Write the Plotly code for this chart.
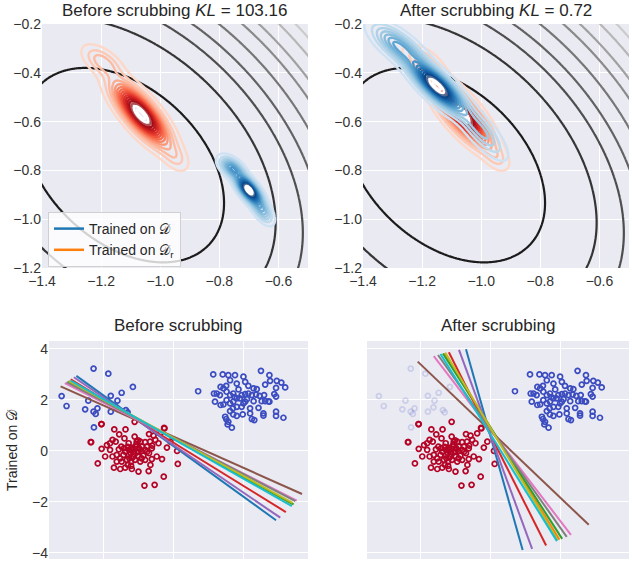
import numpy as np
from plotly import graph_objs as go

# ---- top row: loss landscape rings (quadratic) ----
landscape_center = [-1.122, -0.7785]
landscape_quad = [10.33, 3.42, 7.43]  # a, b, d  ->  a dx^2 + 2b dx dy + d dy^2
landscape_levels = [1.0, 2.3, 3.2, 3.95, 4.82, 5.72, 6.44, 7.40, 8.26]
landscape_colors = ["#1c1c1c", "#353535", "#4e4e4e", "#626262", "#767676",
                    "#8a8a8a", "#a0a0a0", "#b6b6b6", "#cbcbcb"]

# ---- weight densities, gaussian components: x, y, sd major, sd minor, angle, weight ----
red_x = [-1.065, -1.195, -0.95]
red_y = [-0.57, -0.355, -0.745]
red_sd_major = [0.09, 0.05, 0.04]
red_sd_minor = [0.03, 0.026, 0.022]
red_angle = [-56, -45, -60]
red_weight = [1.0, 0.2, 0.1]

blue_before_x = [-0.70, -0.757, -0.655]
blue_before_y = [-0.88, -0.79, -0.965]
blue_before_sd_major = [0.042, 0.032, 0.035]
blue_before_sd_minor = [0.017, 0.018, 0.016]
blue_before_angle = [-58, -50, -62]
blue_before_weight = [1.0, 0.45, 0.3]

blue_after_x = [-1.15, -1.28, -1.0]
blue_after_y = [-0.455, -0.29, -0.64]
blue_after_sd_major = [0.08, 0.07, 0.075]
blue_after_sd_minor = [0.026, 0.028, 0.025]
blue_after_angle = [-50, -45, -55]
blue_after_weight = [1.0, 0.42, 0.25]

kde_levels = [0.04, 0.97, 0.062]  # start, end, step (fraction of peak)

# ---- bottom row: data points ----
red_pts_x = [-2.04, -1.68, -1.36, -1.54, -1.10, -0.69, -0.25, -2.34, -1.73, -1.39, -1.10, -0.56,
             -0.37, -2.04, -1.89, -1.80, -1.64, -1.48, -1.27, -1.18, -1.07, -0.94, -0.80, -0.66,
             -0.51, -0.42, -0.18, -0.08, 0.11, -1.94, -1.73, -1.61, -1.51, -1.37, -1.26, -1.13,
             -1.01, -0.91, -0.80, -0.69, -0.61, -0.47, -0.32, -2.15, -1.80, -1.61, -1.47, -1.32,
             -1.20, -1.09, -0.94, -0.80, -0.65, -1.69, -1.51, -1.37, -1.18, -0.99, -0.70, -0.27,
             0.13, -0.82, -0.53, -1.26, -1.04, -0.89, -0.75, -1.29, -1.42, -0.61, -1.20, -1.00,
             -1.15, -0.95, -1.05, -1.30, -0.85, -1.25, -0.75, -1.40, -1.10, -0.90, -1.00, -1.20,
             -0.60, -1.55, -2.35, -2.05, -0.26, -1.12, -0.98, -1.22]
red_pts_y = [1.04, 0.83, 0.83, 0.64, 1.13, 0.65, 0.87, 0.33, 0.42, 0.48, 0.55, 0.59,
             0.68, 0.07, 0.22, 0.29, 0.35, 0.16, 0.29, 0.12, 0.16, 0.35, 0.33, 0.35,
             0.42, 0.29, 0.12, 0.35, -0.01, -0.23, -0.23, -0.17, -0.30, -0.04, -0.17, -0.04,
             -0.20, -0.01, 0.03, -0.10, 0.09, -0.23, -0.33, -0.50, 0.03, -0.43, -0.43, -0.36,
             -0.43, -0.36, -0.43, -0.36, -0.56, -0.67, -0.72, -0.67, -0.72, -0.82, -0.80, -1.02,
             -0.52, -1.37, -1.34, 0.03, 0.35, 0.16, 0.16, -0.56, -0.17, -0.33, 0.05, -0.05,
             -0.25, 0.05, 0.25, 0.15, -0.20, -0.30, -0.05, 0.10, -0.15, -0.30, 0.40, -0.60,
             0.20, 0.05, 0.33, 1.04, 0.89, 0.08, 0.10, -0.08]

blue_pts_x = [0.71, 1.14, 1.41, 1.57, 1.76, 2.00, 2.50, 2.74, 2.76, 2.95, 3.08, 3.19, 2.62,
              1.62, 1.81, 2.05, 2.14, 2.29, 2.38, 2.93, 1.35, 1.43, 1.51, 1.24, 1.16, 1.33,
              1.52, 1.62, 1.71, 1.86, 1.95, 2.05, 2.14, 2.24, 2.36, 2.46, 2.59, 2.88, 1.19,
              1.35, 1.43, 1.52, 1.62, 1.71, 1.81, 1.70, 1.81, 1.95, 2.05, 2.19, 2.29, 2.43,
              2.52, 2.62, 2.74, 1.62, 1.71, 1.81, 1.98, 2.19, 2.57, 2.57, 2.93, 2.93, 3.14,
              1.48, 1.51, 1.57, 1.55, 1.67, 2.24, 2.31, 2.93, 2.71, 1.90, 2.10, 1.75, 2.00]
blue_pts_y = [2.33, 2.99, 2.99, 2.96, 2.96, 2.90, 3.13, 2.96, 2.74, 2.74, 2.67, 2.48, 2.59,
              2.76, 2.63, 2.70, 2.54, 2.44, 2.41, 2.46, 2.50, 2.44, 2.54, 2.24, 2.24, 2.18,
              2.31, 2.18, 2.24, 2.40, 2.18, 2.22, 2.24, 2.18, 2.20, 2.15, 2.18, 2.22, 1.92,
              1.79, 1.81, 1.98, 1.85, 1.92, 2.05, 1.66, 1.72, 1.72, 1.92, 1.66, 1.94, 1.68,
              1.94, 1.94, 1.92, 1.55, 1.42, 1.36, 1.42, 1.46, 1.46, 1.37, 1.53, 1.36, 1.29,
              1.33, 1.24, 1.13, 1.03, 0.90, 1.24, 1.20, 2.12, 1.93, 2.05, 2.02, 2.10, 1.85]

stray_pts_x = [-2.27, -1.85, -1.15, -1.47, -1.78, -3.18, -1.59, -2.42, -3.04, -2.16, -2.51,
               -2.27, -2.21, -1.78, -1.35, -2.26, -1.62, -1.30]
stray_pts_y = [3.22, 3.02, 2.50, 2.27, 2.15, 2.14, 1.96, 1.96, 1.75, 1.66, 1.62,
               1.53, 1.44, 1.53, 1.59, 0.91, 1.70, 1.50]

# ---- classifier lines (tab10 order), endpoints ----
line_colors = ["#1f77b4", "#ff7f0e", "#2ca02c", "#d62728", "#9467bd",
               "#8c564b", "#e377c2", "#7f7f7f", "#bcbd22", "#17becf"]
before_x0 = [-2.76, -2.96, -2.99, -2.92, -2.83, -3.21, -3.09, -3.04, -2.97, -2.92]
before_y0 = [2.93, 2.74, 2.72, 2.80, 2.88, 2.52, 2.65, 2.69, 2.73, 2.75]
before_x1 = [2.93, 3.40, 3.43, 3.21, 3.05, 3.67, 3.52, 3.48, 3.40, 3.38]
before_y1 = [-2.73, -2.10, -2.11, -2.41, -2.63, -1.70, -1.96, -1.98, -2.05, -2.18]
after_x0 = [-0.69, -1.30, -1.35, -1.18, -0.89, -2.07, -1.61, -1.49, -1.28, -1.42]
after_y0 = [3.98, 3.83, 3.81, 3.86, 3.95, 3.49, 3.71, 3.75, 3.84, 3.79]
after_x1 = [0.93, 1.98, 2.06, 1.60, 1.20, 2.82, 2.31, 2.19, 1.93, 1.91]
after_y1 = [-3.90, -3.49, -3.46, -3.72, -3.85, -2.91, -3.30, -3.38, -3.51, -3.55]

FONT = "Liberation Sans, Arial, sans-serif"
REDS = [[0, "#fdd8c8"], [0.22, "#fcab8f"], [0.42, "#f9714f"], [0.62, "#e4342a"],
        [0.82, "#b3101a"], [0.92, "#8f0a12"], [0.95, "#ffffff"], [1, "#ffffff"]]
BLUES = [[0, "#cfe2f3"], [0.22, "#9cc8e2"], [0.42, "#5ea6d2"], [0.62, "#2a7ab9"],
         [0.82, "#0b5199"], [0.92, "#08306b"], [0.95, "#ffffff"], [1, "#ffffff"]]

grid_x = np.linspace(-1.45, -0.45, 260)
grid_y = np.linspace(-1.25, -0.15, 260)
GX, GY = np.meshgrid(grid_x, grid_y)


def mixture(mx, my, sd_major, sd_minor, angle, weight):
    z = np.zeros_like(GX)
    for i in range(len(mx)):
        t = np.radians(angle[i])
        u = (GX - mx[i]) * np.cos(t) + (GY - my[i]) * np.sin(t)
        v = -(GX - mx[i]) * np.sin(t) + (GY - my[i]) * np.cos(t)
        z += weight[i] * np.exp(-0.5 * ((u / sd_major[i]) ** 2 + (v / sd_minor[i]) ** 2))
    return z / z.max()


def landscape():
    dx = GX - landscape_center[0]
    dy = GY - landscape_center[1]
    a, b, d = landscape_quad
    return a * dx ** 2 + 2 * b * dx * dy + d * dy ** 2


def kde_trace(z, scale, xa, ya):
    return go.Contour(
        x=grid_x, y=grid_y, z=z, xaxis=xa, yaxis=ya,
        contours=dict(coloring="lines", start=kde_levels[0], end=kde_levels[1], size=kde_levels[2]),
        line=dict(width=2.4), colorscale=scale, zauto=False, zmin=kde_levels[0], zmax=kde_levels[1],
        showscale=False, hoverinfo="skip", showlegend=False,
    )


fig = go.Figure()
loss = landscape()
red_z = mixture(red_x, red_y, red_sd_major, red_sd_minor, red_angle, red_weight)
blue_before_z = mixture(blue_before_x, blue_before_y, blue_before_sd_major, blue_before_sd_minor,
                        blue_before_angle, blue_before_weight)
blue_after_z = mixture(blue_after_x, blue_after_y, blue_after_sd_major, blue_after_sd_minor,
                       blue_after_angle, blue_after_weight)

for xa, ya, blue_z in [("x", "y", blue_before_z), ("x2", "y2", blue_after_z)]:
    for level, color in zip(landscape_levels, landscape_colors):
        fig.add_trace(go.Contour(
            x=grid_x, y=grid_y, z=loss, xaxis=xa, yaxis=ya,
            contours=dict(coloring="none", start=level, end=level, size=1),
            line=dict(width=2.2, color=color), showscale=False, hoverinfo="skip", showlegend=False,
        ))
    fig.add_trace(kde_trace(red_z, REDS, xa, ya))
    fig.add_trace(kde_trace(blue_z, BLUES, xa, ya))

# legend handles
fig.add_trace(go.Scatter(x=[None], y=[None], mode="lines", line=dict(color="#1f77b4", width=2.5),
                         name="Trained on 𝒟", xaxis="x", yaxis="y"))
fig.add_trace(go.Scatter(x=[None], y=[None], mode="lines", line=dict(color="#ff7f0e", width=2.5),
                         name="Trained on 𝒟<sub>r</sub>", xaxis="x", yaxis="y"))

for xa, ya, stray_color, x0, y0, x1, y1 in [
    ("x3", "y3", "#3b4cc0", before_x0, before_y0, before_x1, before_y1),
    ("x4", "y4", "rgba(59,76,192,0.18)", after_x0, after_y0, after_x1, after_y1),
]:
    marker = dict(symbol="circle-open", size=5, line=dict(width=1.7))
    fig.add_trace(go.Scatter(x=stray_pts_x, y=stray_pts_y, mode="markers", xaxis=xa, yaxis=ya,
                             marker=dict(marker, color=stray_color), showlegend=False, hoverinfo="skip"))
    fig.add_trace(go.Scatter(x=blue_pts_x, y=blue_pts_y, mode="markers", xaxis=xa, yaxis=ya,
                             marker=dict(marker, color="#3b4cc0"), showlegend=False, hoverinfo="skip"))
    fig.add_trace(go.Scatter(x=red_pts_x, y=red_pts_y, mode="markers", xaxis=xa, yaxis=ya,
                             marker=dict(marker, color="#b40426"), showlegend=False, hoverinfo="skip"))
    for i, color in enumerate(line_colors):
        fig.add_trace(go.Scatter(x=[x0[i], x1[i]], y=[y0[i], y1[i]], mode="lines", xaxis=xa, yaxis=ya,
                                 line=dict(color=color, width=2), showlegend=False, hoverinfo="skip"))

W, H = 632, 562


def px(v):
    return v / W


def py(v):
    return 1 - v / H


axis_style = dict(showgrid=True, gridcolor="white", gridwidth=1.3, zeroline=False, showline=False,
                  ticks="", automargin=False, tickfont=dict(size=14, color="#333333", family=FONT))
top_x = dict(axis_style, range=[-1.4, -0.5], tick0=-1.4, dtick=0.2, tickformat=".1f",
             ticklabelstandoff=3)
top_y = dict(axis_style, range=[-1.2, -0.2], tick0=-1.2, dtick=0.2, tickformat=".1f")

fig.update_layout(
    width=W, height=H, margin=dict(l=0, r=0, t=0, b=0, autoexpand=False),
    paper_bgcolor="white", plot_bgcolor="#EAEAF2",
    font=dict(family=FONT, color="#262626"),
    xaxis=dict(top_x, domain=[px(42), px(308)], anchor="y"),
    yaxis=dict(top_y, domain=[py(268), py(24)], anchor="x"),
    xaxis2=dict(top_x, domain=[px(363), px(629)], anchor="y2"),
    yaxis2=dict(top_y, domain=[py(268), py(24)], anchor="x2"),
    xaxis3=dict(axis_style, range=[-3.54, 3.84], tickvals=[-2, 0, 2], showticklabels=False,
                domain=[px(49), px(308)], anchor="y3"),
    yaxis3=dict(axis_style, range=[-4.25, 4.3], tickvals=[-4, -2, 0, 2, 4],
                domain=[py(559), py(341)], anchor="x3"),
    xaxis4=dict(axis_style, range=[-3.52, 3.97], tickvals=[-2, 0, 2], showticklabels=False,
                domain=[px(367), px(629)], anchor="y4"),
    yaxis4=dict(axis_style, range=[-4.25, 4.3], tickvals=[-4, -2, 0, 2, 4], showticklabels=False,
                domain=[py(559), py(341)], anchor="x4"),
    legend=dict(x=px(48), y=py(212), xanchor="left", yanchor="top",
                bgcolor="rgba(255,255,255,0.8)", bordercolor="#d0d0d0", borderwidth=1,
                font=dict(size=14, family=FONT, color="#262626"), itemwidth=30, tracegroupgap=0),
    showlegend=True,
)

titles = [
    ("Before scrubbing <i>KL</i> = 103.16", 175, 11, 17, 0),
    ("After scrubbing <i>KL</i> = 0.72", 496, 11, 17, 0),
    ("Before scrubbing", 178, 325, 17, 0),
    ("After scrubbing", 498, 325, 17, 0),
    ("Trained on 𝒟", 12, 450, 14, -90),
]
for text, tx, ty, size, angle in titles:
    fig.add_annotation(text=text, x=px(tx), y=py(ty), xref="paper", yref="paper",
                       xanchor="center", yanchor="middle", showarrow=False, textangle=angle,
                       font=dict(size=size, family=FONT, color="#262626"))

# the page body has a default 8px margin; drop it so the figure fills the window
fig.write_html("out.html", config={"displayModeBar": False},
               post_script="document.body.style.margin = '0';")
